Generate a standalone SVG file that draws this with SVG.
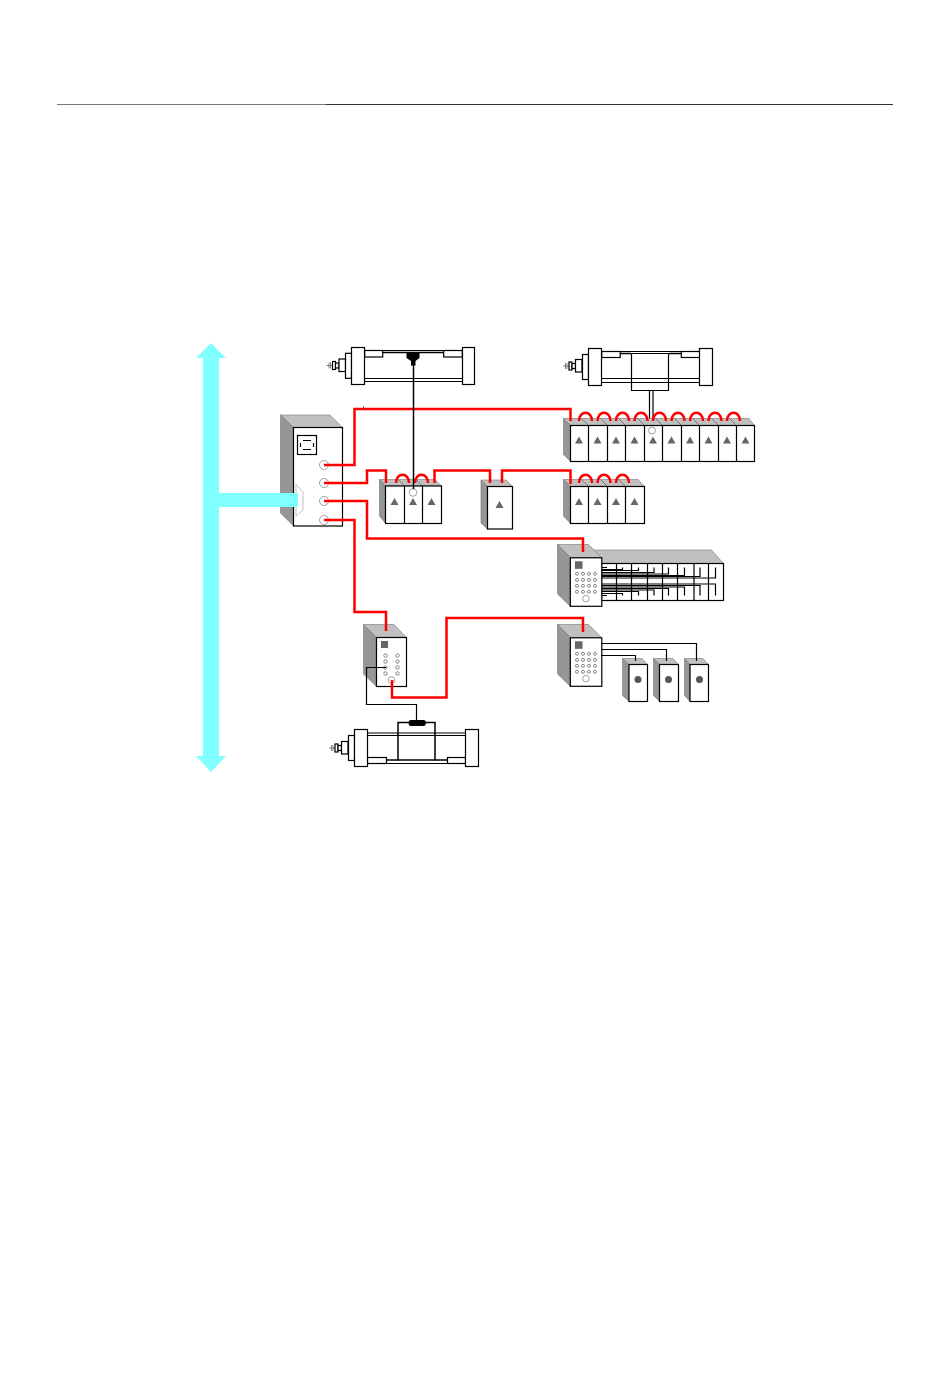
<svg xmlns="http://www.w3.org/2000/svg" width="950" height="1379" viewBox="0 0 950 1379">
<style>
.k{fill:#fff;stroke:#000;stroke-width:1.200}
.n{fill:none;stroke:#000;stroke-width:1.200}
.s{fill:none;stroke:#666;stroke-width:.8}
.top{fill:#c0c0c0;stroke:#777;stroke-width:.6}
.side{fill:#969696;stroke:#777;stroke-width:.6}
.red{fill:none;stroke:#f00;stroke-width:2.500}
.tri{fill:#666}
.dot{fill:#fff;stroke:#555;stroke-width:.7}
.ring{fill:none;stroke:#888;stroke-width:.8}
.blue{fill:#80ffff}
</style>
<defs>
<path id="t" class="tri" d="M0-4 L4 3 L-4 3Z"/>
<g id="rod">
<path class="s" d="M-9.500 0H-20M-17.500 -3V3M-16 -3V3"/>
<rect class="k" x="-14" y="-4" width="3" height="8"/>
<rect class="k" x="-11" y="-2.500" width="3.500" height="5"/>
<rect class="k" x="-7.500" y="-6.500" width="6.500" height="12.500"/>
</g>
<g id="cp">
<rect class="k" x="0" y="0" width="31.500" height="48.500"/>
<rect x="4.700" y="3.500" width="7.500" height="7.500" fill="#666"/>
<circle class="dot" cx="6.700" cy="16" r="1.500"/><circle class="dot" cx="12.700" cy="16" r="1.500"/><circle class="dot" cx="18.700" cy="16" r="1.500"/><circle class="dot" cx="24.700" cy="16" r="1.500"/>
<circle class="dot" cx="6.700" cy="22" r="1.500"/><circle class="dot" cx="12.700" cy="22" r="1.500"/><circle class="dot" cx="18.700" cy="22" r="1.500"/><circle class="dot" cx="24.700" cy="22" r="1.500"/>
<circle class="dot" cx="6.700" cy="28" r="1.500"/><circle class="dot" cx="12.700" cy="28" r="1.500"/><circle class="dot" cx="18.700" cy="28" r="1.500"/><circle class="dot" cx="24.700" cy="28" r="1.500"/>
<circle class="dot" cx="6.700" cy="34" r="1.500"/><circle class="dot" cx="12.700" cy="34" r="1.500"/><circle class="dot" cx="18.700" cy="34" r="1.500"/><circle class="dot" cx="24.700" cy="34" r="1.500"/>
<circle class="ring" cx="15.700" cy="40.800" r="3.300"/>
</g>
</defs>

<g id="header"><path d="M57 104.500H326" stroke="#777" stroke-width="1"/><path d="M326 104.500H893" stroke="#333" stroke-width="1.200"/></g>

<path id="bus" class="blue" d="M211 343 L226 358 H219 V493 H298 V507 H219 V756 H226 L211 772 L196 756 H203 V358 H196Z"/>

<g id="cylinder-1">
<use href="#rod" x="346.500" y="365.500"/>
<rect class="k" x="345.500" y="353.300" width="6" height="25"/>
<path class="n" d="M364.500 350.500H462.500M364.500 378.500H462.500M364.500 381.500H462.500"/>
<rect class="k" x="364.700" y="350.500" width="18" height="6.500"/>
<rect class="k" x="443.700" y="350.500" width="18.600" height="6.500"/>
<path d="M382.500 352.500H443.500" stroke="#000" stroke-width="1.500"/>
<rect class="k" x="351.500" y="347.500" width="13" height="37"/>
<rect class="k" x="462.500" y="347.500" width="12" height="37"/>
<path d="M406.500 353H419.500V358L415.500 361V365.500H411V361L406.500 358Z" fill="#000"/>
</g>

<g id="cylinder-2">
<use href="#rod" x="583" y="366"/>
<rect class="k" x="582.500" y="354.500" width="6" height="25"/>
<path class="n" d="M601.500 351.500H699.500M601.500 378.500H699.500M601.500 382.500H699.500"/>
<rect class="k" x="601.700" y="351.500" width="18.500" height="6"/>
<rect class="k" x="681.300" y="351.500" width="18.500" height="6"/>
<path d="M620 353.500H631M669 353.500H681" stroke="#000" stroke-width="1.500"/>
<path class="n" d="M631.500 353.500V390.500H668.500V353.500H631.500M649.500 390.500V430M653 390.500V430"/>
<rect class="k" x="588.500" y="348.500" width="13" height="37"/>
<rect class="k" x="699.500" y="348.500" width="13" height="37"/>
</g>

<g id="cylinder-3">
<use href="#rod" x="349" y="748"/>
<rect class="k" x="348.500" y="735.500" width="6" height="25"/>
<path class="n" d="M367.500 733H465.500M367.500 735.500H465.500M367.500 763.500H465.500"/>
<rect class="k" x="367.500" y="757.500" width="19" height="6"/>
<rect class="k" x="447.500" y="757.500" width="18" height="6"/>
<path d="M386.500 760H447.500" stroke="#000" stroke-width="1.500"/>
<path fill="none" stroke="#000" stroke-width="1.500" d="M398 760.500V722.500H435V760.500"/>
<rect class="k" x="354.500" y="729.500" width="13" height="37"/>
<rect class="k" x="465.500" y="729.500" width="13" height="37"/>
<rect x="408.700" y="720" width="17" height="6" rx="2" fill="#000"/>
</g>

<g id="main-controller">
<polygon class="top" points="280.500,415 330,415 342.500,427.500 293.500,427.500"/>
<polygon class="side" points="280.500,415 293.500,427.500 293.500,526 280.500,513"/>
<rect class="k" x="293.500" y="427.500" width="49" height="98.500"/>
<rect class="k" x="297.500" y="435.500" width="19" height="19"/>
<path class="n" d="M303 440.500H311M303 449.500H311M300.500 443V447M313.500 443V447"/>
<circle class="ring" cx="324" cy="465" r="4.500"/>
<circle class="ring" cx="324" cy="483" r="4.500"/>
<circle class="ring" cx="324" cy="501" r="4.500"/>
<circle class="ring" cx="324" cy="520" r="4.500"/>
<polygon points="296,484.500 303,492 303,510 296,516" fill="#fff" stroke="#999" stroke-width=".6"/>
<rect class="blue" x="270" y="493" width="28" height="14"/>
</g>

<g id="strip-10">
<polygon class="top" points="563.500,418.500 749,418.500 754.500,425.500 570.500,425.500"/>
<polygon class="side" points="563.500,418.500 570.500,425.500 570.500,461.500 563.500,454.500"/>
<path class="s" d="M581.500 418.500L588.500 425.500M600.500 418.500L607.500 425.500M618.500 418.500L625.500 425.500M637.500 418.500L644.500 425.500M655.500 418.500L662.500 425.500M674.500 418.500L681.500 425.500M692.500 418.500L699.500 425.500M711.500 418.500L718.500 425.500M729.500 418.500L736.500 425.500"/>
<rect class="k" x="570.500" y="425.500" width="184" height="36"/>
<path class="n" d="M588.500 425.500V461.500M607.500 425.500V461.500M625.500 425.500V461.500M644.500 425.500V461.500M662.500 425.500V461.500M681.500 425.500V461.500M699.500 425.500V461.500M718.500 425.500V461.500M736.500 425.500V461.500"/>
<use href="#t" x="579" y="440.500"/><use href="#t" x="597.500" y="440.500"/><use href="#t" x="616" y="440.500"/><use href="#t" x="634.500" y="440.500"/><use href="#t" x="653" y="440.500"/><use href="#t" x="671.500" y="440.500"/><use href="#t" x="690" y="440.500"/><use href="#t" x="708.500" y="440.500"/><use href="#t" x="727" y="440.500"/><use href="#t" x="745.500" y="440.500"/>
<circle class="ring" cx="652" cy="430.500" r="3.500"/>
</g>

<g id="strip-4">
<polygon class="top" points="563.500,479.500 638,479.500 644.500,486.500 570.500,486.500"/>
<polygon class="side" points="563.500,479.500 570.500,486.500 570.500,523.500 563.500,516"/>
<path class="s" d="M581.500 479.500L588.500 486.500M600.500 479.500L607.500 486.500M618.500 479.500L625.500 486.500"/>
<rect class="k" x="570.500" y="486.500" width="74" height="37"/>
<path class="n" d="M588.500 486.500V523.500M607.500 486.500V523.500M625.500 486.500V523.500"/>
<use href="#t" x="579" y="502"/><use href="#t" x="597.500" y="502"/><use href="#t" x="616" y="502"/><use href="#t" x="634.500" y="502"/>
</g>

<g id="strip-3">
<polygon class="top" points="379.500,479.500 435,479.500 441.500,486 385.500,486"/>
<polygon class="side" points="379.500,479.500 385.500,486 385.500,523.500 379.500,516"/>
<path class="s" d="M398 479.500L404.500 486M416 479.500L422.500 486"/>
<rect class="k" x="385.500" y="486" width="56" height="37.500"/>
<path class="n" d="M404.500 486V523.500M422.500 486V523.500"/>
<use href="#t" x="394.500" y="502"/><use href="#t" x="413" y="502"/><use href="#t" x="431.500" y="502"/>
<circle class="ring" cx="413" cy="492.500" r="3.800"/>
</g>

<g id="single-module">
<polygon class="top" points="481,480 506,480 512.500,486.500 487.500,486.500"/>
<polygon class="side" points="481,480 487.500,486.500 487.500,529 481,523"/>
<rect class="k" x="487.500" y="486.500" width="25" height="42.500"/>
<use href="#t" x="499.500" y="505"/>
</g>

<g id="rack">
<polygon class="top" points="593,550 711.500,550 723.500,563.500 598,563.500"/>
<rect class="k" x="601.500" y="563.500" width="122" height="37"/>
<path class="n" d="M616.500 563.500V600.500M631.500 563.500V600.500M647.500 563.500V600.500M662.500 563.500V600.500M677.500 563.500V600.500M694 563.500V600.500M708.500 563.500V600.500"/>
<path class="n" d="M601.500 567.500H607M601.500 569.500H622.500V567.500M601.500 570.500H638.500V567.500M601.500 572.500H654V567.500M601.500 574H668.500V567.500M601.500 575.500H684.500V567.500M601.500 576.500H700V567.500M601.500 578H715.500V567.500"/>
<path class="n" d="M601.500 595.500H607M601.500 593.500H622.500V595.500M601.500 591.500H638.500V595.500M601.500 590H654V595.500M601.500 588.500H668.500V595.500M601.500 587H684.500V595.500M601.500 585.500H700V595.500M601.500 584H715.500V595.500"/>
</g>

<g id="controller-rack">
<polygon class="top" points="557.500,544.500 588.500,544.500 601.500,557.500 570.500,557.500"/>
<polygon class="side" points="557.500,544.500 570.500,557.500 570.500,606.500 557.500,594"/>
<use href="#cp" x="570.300" y="557.800"/>
</g>

<g id="controller-io">
<polygon class="top" points="557.500,624.500 588.500,624.500 601.500,637.500 570.500,637.500"/>
<polygon class="side" points="557.500,624.500 570.500,637.500 570.500,686.500 557.500,674"/>
<use href="#cp" x="570.300" y="637.800"/>
</g>

<g id="box-1">
<polygon class="top" points="622.500,658.500 642,658.500 647.500,664.500 629,664.500"/>
<polygon class="side" points="622.500,658.500 629,664.500 629,701.500 622.500,695.500"/>
<rect class="k" x="629" y="664.500" width="18.500" height="37"/>
<circle cx="638" cy="679.500" r="3.500" fill="#555"/>
</g>
<g id="box-2">
<polygon class="top" points="653.500,658.500 673,658.500 678.500,664.500 659.500,664.500"/>
<polygon class="side" points="653.500,658.500 659.500,664.500 659.500,701.500 653.500,695.500"/>
<rect class="k" x="659.500" y="664.500" width="19" height="37"/>
<circle cx="668.500" cy="679.500" r="3.500" fill="#555"/>
</g>
<g id="box-3">
<polygon class="top" points="684.500,658.500 703,658.500 708.500,664.500 690,664.500"/>
<polygon class="side" points="684.500,658.500 690,664.500 690,701.500 684.500,695.500"/>
<rect class="k" x="690" y="664.500" width="18.500" height="37"/>
<circle cx="699.500" cy="679.500" r="3.500" fill="#555"/>
</g>

<g id="controller-small">
<polygon class="top" points="363.500,624.500 394,624.500 406.500,637.500 376.500,637.500"/>
<polygon class="side" points="363.500,624.500 376.500,637.500 376.500,686.500 363.500,674"/>
<rect class="k" x="376.500" y="637.500" width="30" height="49"/>
<rect x="381" y="641" width="7" height="7" fill="#666"/>
<circle class="dot" cx="385.500" cy="655.500" r="1.700"/><circle class="dot" cx="397.500" cy="655.500" r="1.700"/>
<circle class="dot" cx="385.500" cy="661.500" r="1.700"/><circle class="dot" cx="397.500" cy="661.500" r="1.700"/>
<circle class="dot" cx="385.500" cy="667.500" r="1.700"/><circle class="dot" cx="397.500" cy="667.500" r="1.700"/>
<circle class="dot" cx="385.500" cy="673.500" r="1.700"/><circle class="dot" cx="397.500" cy="673.500" r="1.700"/>
<circle class="ring" cx="391.500" cy="680" r="3.300"/>
</g>

<g id="connectors">
<path class="red" d="M324 465H354.500V409H570.500V421"/>
<path class="red" d="M324 483H367V470.500H386V483"/>
<path class="red" d="M434.500 483V470.500H490V483"/>
<path class="red" d="M502 483V470.500H570.500V484"/>
<path class="red" d="M324 501H367V538.500H583V552"/>
<path class="red" d="M324 520H354.500V612H386V631"/>
<path class="red" d="M392 680V697.500H446.500V618H583V632"/>
<path class="red" d="M396 483C396 472 409 472 409 483M415 483C415 472 428 472 428 483"/>
<path class="red" d="M579 421C579 410 592 410 592 421M597.500 421C597.500 410 610.500 410 610.500 421M616 421C616 410 629 410 629 421M634.500 421C634.500 410 647.500 410 647.500 421M653 421C653 410 666 410 666 421M671.500 421C671.500 410 684.500 410 684.500 421M690 421C690 410 703 410 703 421M708.500 421C708.500 410 721.500 410 721.500 421M727 421C727 410 740 410 740 421"/>
<path class="red" d="M579 483C579 472 592 472 592 483M597.500 483C597.500 472 610.500 472 610.500 483M616 483C616 472 629 472 629 483"/>
<path d="M413.500 364V489" fill="none" stroke="#000" stroke-width="1.500"/>
<path class="n" d="M601.500 643.500H696.500V661M601.500 649.500H666.500V661M601.500 655.500H635.500V661"/>
<path class="n" d="M386 667.500H366.500V704.500H416.500V720"/>
</g>
<rect x="363" y="406.500" width="1" height="1" fill="#000"/>
</svg>
